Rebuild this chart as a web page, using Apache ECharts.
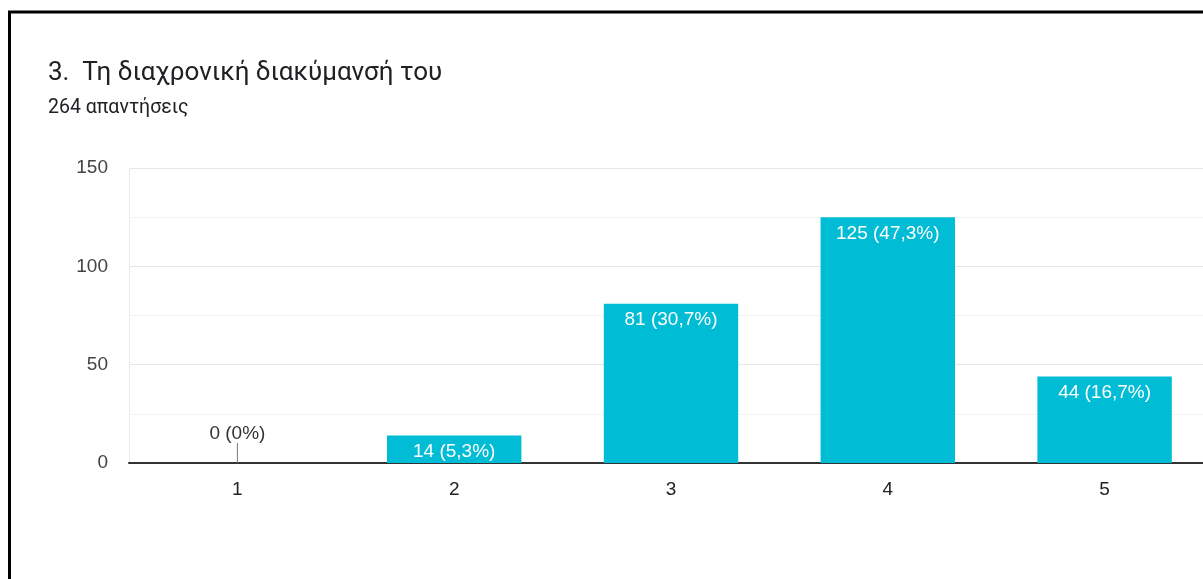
<!DOCTYPE html>
<html>
<head>
<meta charset="utf-8">
<script src="https://cdn.jsdelivr.net/npm/echarts@6/dist/echarts.min.js"></script>
<style>
html,body{margin:0;padding:0;background:#fff;overflow:hidden;width:1203px;height:579px;}
#chart{width:1213px;height:579px;}
</style>
</head>
<body>
<div id="chart"></div>
<script>
var titleText = '3.  Τη διαχρονική διακύμανσή του';
var subtitleText = '264 απαντήσεις';
var categories = ['1', '2', '3', '4', '5'];
var counts = [0, 14, 81, 125, 44];
var percents = ['0%', '5,3%', '30,7%', '47,3%', '16,7%'];
var yTicks = [0, 50, 100, 150];

var chart = echarts.init(document.getElementById('chart'), null, {renderer: 'canvas'});
var option = {
  animation: false,
  backgroundColor: '#fff',
  title: {
    text: titleText,
    subtext: subtitleText,
    left: 43,
    top: 55,
    itemGap: 12,
    textStyle: {fontFamily: 'Roboto', fontSize: 26, fontWeight: 'normal', color: '#202124'},
    subtextStyle: {fontFamily: 'Roboto', fontSize: 19.5, color: '#202124'}
  },
  graphic: [{
    type: 'rect',
    shape: {x: 9.5, y: 12, width: 1400, height: 800},
    style: {fill: 'none', stroke: '#000', lineWidth: 3},
    silent: true
  }],
  grid: {left: 129, right: 0, top: 168, bottom: 116, containLabel: false},
  xAxis: {
    type: 'category',
    data: categories,
    axisTick: {show: false},
    axisLine: {lineStyle: {color: '#333', width: 2}},
    axisLabel: {fontFamily: 'Liberation Sans', fontSize: 19, color: '#222', margin: 17}
  },
  yAxis: {
    type: 'value',
    min: 0,
    max: 150,
    interval: 25,
    axisLine: {show: true, lineStyle: {color: '#ebebeb', width: 1}},
    axisTick: {show: false},
    splitLine: {lineStyle: {color: ['#e6e6e6', '#f3f3f3'], width: 1}},
    axisLabel: {
      fontFamily: 'Liberation Sans', fontSize: 19, color: '#444', margin: 21,
      formatter: function (v) { return yTicks.indexOf(v) >= 0 ? String(v) : ''; }
    }
  },
  series: [{
    type: 'bar',
    data: counts,
    barWidth: '62%',
    itemStyle: {color: '#00bcd4'},
    label: {
      show: true,
      position: 'insideTop',
      distance: 7,
      fontFamily: 'Liberation Sans',
      fontSize: 19,
      color: '#fff',
      formatter: function (p) { return counts[p.dataIndex] + ' (' + percents[p.dataIndex] + ')'; }
    },
    labelLayout: function (p) {
      if (counts[p.dataIndex] === 0) {
        return {y: p.rect.y - 29, align: 'center', verticalAlign: 'middle'};
      }
    }
  }, {
    type: 'custom',
    data: counts.map(function (v, i) { return [i, v]; }),
    silent: true,
    z: 5,
    renderItem: function (params, api) {
      var v = api.value(1);
      if (v !== 0) return null;
      var pt = api.coord([api.value(0), 0]);
      return {
        type: 'line',
        shape: {x1: pt[0], y1: pt[1], x2: pt[0], y2: pt[1] - 20},
        style: {stroke: '#777', lineWidth: 1}
      };
    }
  }]
};
option.series[0].data = counts.map(function (v) {
  return v === 0 ? {value: v, label: {color: '#333'}} : v;
});
chart.setOption(option);
</script>
</body>
</html>
